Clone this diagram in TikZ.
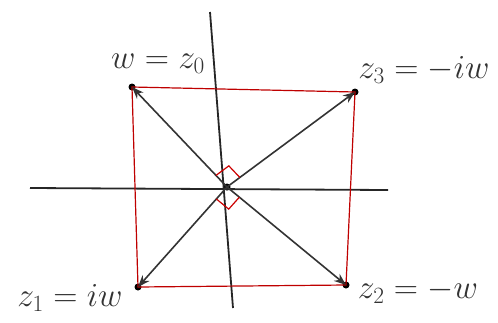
\documentclass[tikz,border=0pt]{standalone}
\usepackage{graphicx}
\usetikzlibrary{calc,arrows.meta}
\newcommand{\biglbl}[1]{\scalebox{1.35}{$#1$}}
\begin{document}
\begin{tikzpicture}[x=1pt,y=-1pt,
  axis/.style={line width=1.8pt,draw=black!85},
  sq/.style={line width=1.2pt,draw=red!75!black},
  vec/.style={line width=1.6pt,draw=black!80,-{Stealth[length=12pt,width=9pt]}},
  ra/.style={line width=1.2pt,draw=red!80!black},
  dot/.style={circle,fill=black,inner sep=0pt,minimum size=7pt},
  lbl/.style={font=\fontsize{24}{26}\selectfont,text=black!80}]
\useasboundingbox (0,0) rectangle (498,322);
\coordinate (xl) at (30,188);
\coordinate (xr) at (388,190);
\coordinate (yt) at (210,12);
\coordinate (yb) at (233,308);
\node[dot] (o) at (227,187) {};
\node[dot] (z0) at (132,87) {};
\node[dot] (z3) at (355,92) {};
\node[dot] (z1) at (138,287) {};
\node[dot] (z2) at (346,285) {};
\draw[axis] (xl) -- (xr);
\draw[axis] (yt) -- (yb);
\draw[sq] (z0.center) -- (z3.center) -- (z2.center) -- (z1.center) -- cycle;
\foreach \p in {z0,z3,z1,z2}{\draw[vec] (o.center) -- (\p.center);}
\draw[ra] ($(o.center)!16pt!(z0.center)$) -- ($(o.center)!16pt!(z0.center)+(o.center)!16pt!(z3.center)-(o.center)$) -- ($(o.center)!16pt!(z3.center)$);
\draw[ra] ($(o.center)!16pt!(z1.center)$) -- ($(o.center)!16pt!(z1.center)+(o.center)!16pt!(z2.center)-(o.center)$) -- ($(o.center)!16pt!(z2.center)$);
\node[lbl] (l0) at (158,64) {\biglbl{w=z_0}};
\node[lbl] (l3) at (424,70) {\biglbl{z_3=-iw}};
\node[lbl] (l1) at (70,298) {\biglbl{z_1=iw}};
\node[lbl] (l2) at (418,291) {\biglbl{z_2=-w}};
\end{tikzpicture}
\end{document}
